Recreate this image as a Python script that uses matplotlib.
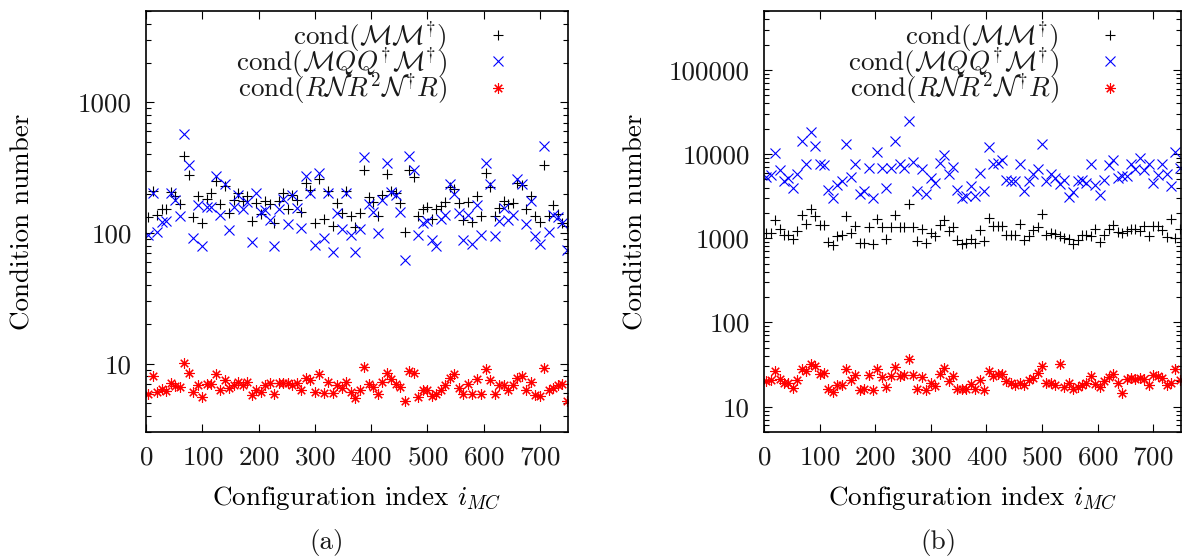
import numpy as np
import matplotlib

matplotlib.use("Agg")

import matplotlib.pyplot as plt
from matplotlib import ticker

plt.rcParams['font.family'] = 'cmr10'
plt.rcParams['mathtext.fontset'] = 'cm'
plt.rcParams['axes.formatter.use_mathtext'] = True
plt.rcParams['font.size'] = 19.5
plt.rcParams['text.color'] = '#1a1a1a'
plt.rcParams['xtick.labelcolor'] = '#1a1a1a'
plt.rcParams['ytick.labelcolor'] = '#1a1a1a'

# configuration index i_MC
config_index = list(range(4, 750, 8))

# panel (a)
a_mm = [133, 211, 138, 153, 153, 207, 191, 166, 387, 278,
        132, 191, 119, 183, 201, 250, 166, 230, 142, 180,
        201, 177, 191, 124, 170, 141, 177, 166, 119, 177,
        201, 153, 197, 179, 144, 242, 214, 120, 258, 127,
        211, 113, 170, 142, 211, 134, 111, 142, 305, 189,
        172, 136, 197, 283, 211, 201, 170, 101, 305, 266,
        134, 153, 159, 127, 152, 161, 172, 225, 216, 170,
        126, 172, 122, 191, 135, 287, 223, 134, 156, 177,
        166, 170, 242, 232, 153, 191, 134, 122, 331, 136,
        164, 140, 120, 114]
a_mqqm = [97, 203, 101, 122, 124, 201, 180, 136, 570, 331,
          92, 164, 79, 158, 158, 271, 138, 238, 105, 158,
          195, 152, 172, 86, 201, 145, 150, 126, 80, 152,
          183, 118, 195, 156, 109, 274, 201, 81, 288, 91,
          203, 72, 142, 107, 203, 96, 72, 107, 382, 168,
          145, 100, 179, 346, 205, 197, 145, 62, 387, 305,
          96, 120, 123, 88, 79, 127, 138, 238, 198, 142,
          88, 138, 83, 164, 97, 341, 239, 95, 124, 156,
          126, 138, 258, 239, 118, 175, 95, 82, 461, 101,
          138, 133, 120, 74]
a_rnr = [5.88, 8.0, 6.07, 6.38, 6.14, 7.1, 6.75, 6.58, 10.2, 8.55,
         6.07, 6.87, 5.6, 6.96, 6.96, 8.3, 6.34, 7.55, 6.46, 6.87,
         7.3, 6.87, 7.3, 5.77, 6.26, 6.07, 6.87, 7.1, 5.88, 7.1,
         7.1, 7.1, 6.87, 7.1, 6.26, 7.8, 7.45, 6.07, 8.3, 5.95,
         7.3, 5.95, 6.87, 6.46, 7.3, 6.07, 5.46, 6.34, 9.4, 6.96,
         6.66, 5.88, 7.3, 8.55, 7.6, 7.0, 6.58, 5.19, 8.8, 8.45,
         5.6, 6.26, 6.34, 5.7, 5.88, 6.34, 6.87, 7.8, 8.4, 6.46,
         5.88, 6.96, 5.88, 7.6, 5.88, 9.1, 7.45, 5.88, 6.87, 6.87,
         6.26, 6.87, 7.8, 8.1, 6.26, 7.3, 5.8, 5.7, 9.3, 6.26,
         6.46, 6.9, 7.0, 5.2]

# panel (b)
b_mm = [1162, 1162, 1663, 1280, 1107, 1107, 986, 1220, 1886, 1480,
        2223, 1832, 1452, 1452, 912, 828, 1055, 1086, 1832, 1162,
        1410, 886, 869, 1370, 844, 1712, 1344, 976, 1344, 1886,
        1344, 1370, 2522, 1344, 930, 1305, 886, 1162, 1055, 1452,
        1631, 1220, 1344, 957, 844, 869, 986, 869, 1243, 930,
        1762, 1383, 1410, 1410, 1107, 1107, 1107, 1480, 957, 1055,
        1243, 1344, 1922, 1107, 1162, 1129, 1055, 1005, 986, 844,
        957, 1086, 1086, 1055, 1300, 894, 1107, 1280, 1452, 1197,
        1150, 1220, 1280, 1280, 1220, 1383, 1055, 1400, 1383, 1243,
        1024, 1712, 1000, 1280]
b_mqqm = [5370, 5630, 10270, 6450, 4830, 5210, 3900, 5750, 14420, 7680,
          18360, 12460, 7680, 7320, 3715, 2970, 4300, 4730, 13340, 5320,
          7680, 3370, 3610, 6840, 3030, 10470, 6840, 3980, 6840, 14420,
          7680, 6840, 25030, 8060, 3645, 6640, 3310, 5210, 4470, 7830,
          9790, 5750, 6970, 3715, 3000, 3210, 4215, 3210, 6030, 3645,
          12110, 7530, 7830, 8460, 4970, 4730, 4730, 7680, 3610, 4830,
          5750, 6640, 13340, 4730, 5750, 5210, 4380, 4970, 3060, 3540,
          4730, 4870, 4510, 7680, 4300, 3275, 4970, 7320, 8460, 5210,
          5470, 5470, 7530, 6640, 9000, 6450, 7680, 4510, 5600, 7530,
          5750, 4215, 10470, 6840]
b_rnr = [19.9, 20.5, 26.6, 21.3, 18.9, 19.3, 16.7, 20.5, 27.9, 26.6,
         31.7, 30.8, 24.1, 25.3, 16.4, 14.9, 18.1, 18.1, 27.9, 20.5,
         23.5, 15.6, 16.1, 23.5, 15.9, 27.9, 22.6, 17.2, 23.0, 29.3,
         23.0, 23.5, 36.6, 23.7, 16.4, 22.6, 15.9, 19.3, 17.5, 24.1,
         28.5, 19.9, 23.0, 16.4, 16.4, 16.4, 18.6, 16.4, 20.5, 15.9,
         26.6, 23.0, 24.1, 24.1, 19.9, 18.9, 18.1, 19.3, 18.1, 20.5,
         21.9, 25.3, 30.8, 19.3, 18.9, 18.1, 32.3, 17.2, 19.3, 16.4,
         17.2, 18.1, 18.9, 23.0, 18.6, 17.2, 19.9, 22.6, 24.1, 18.9,
         14.5, 21.3, 21.9, 21.3, 21.9, 21.3, 18.1, 23.5, 23.0, 21.9,
         18.1, 19.0, 27.9, 20.9]

labels = [r'$\mathrm{cond}(\mathcal{M}\mathcal{M}^{\dagger})$',
          r'$\mathrm{cond}(\mathcal{M}QQ^{\dagger}\mathcal{M}^{\dagger})$',
          r'$\mathrm{cond}(R\mathcal{N}R^{2}\mathcal{N}^{\dagger}R)$']
x_ticks = [0, 100, 200, 300, 400, 500, 600, 700]


def draw_panel(ax, mm, mqqm, rnr, ylim, ylab_x, leg_x):
    ax.plot(config_index, mm, ls='none', marker='+', ms=7, mew=0.8,
            color='black', label=labels[0])
    ax.plot(config_index, mqqm, ls='none', marker='x', ms=6.5, mew=0.8,
            color='#0000ff', label=labels[1])
    ax.plot(config_index, rnr, ls='none', marker=(8, 2, 0), ms=7.5, mew=0.8,
            color='#ff0000', label=labels[2])
    ax.set_yscale('log')
    ax.set_xlim(0, 750)
    ax.set_ylim(*ylim)
    ax.set_xticks(x_ticks)
    ax.yaxis.set_major_locator(ticker.LogLocator(base=10))
    ax.yaxis.set_major_formatter(ticker.FuncFormatter(lambda v, p: '%d' % round(v)))
    ax.yaxis.set_minor_locator(ticker.LogLocator(base=10, subs=np.arange(2, 10)))
    ax.yaxis.set_minor_formatter(ticker.NullFormatter())
    ax.tick_params(which='both', direction='in', top=True, right=True, width=0.8)
    ax.tick_params(which='major', length=6)
    ax.tick_params(which='minor', length=3.4)
    ax.tick_params(axis='x', pad=10)
    ax.tick_params(axis='y', pad=10)
    for s in ax.spines.values():
        s.set_linewidth(1.2)
    ax.set_ylabel('Condition number')
    ax.set_xlabel(r'Configuration index $i_{MC}$')
    ax.yaxis.set_label_coords(ylab_x, 0.5)
    ax.xaxis.set_label_coords(0.5, -0.125)
    ax.legend(loc='upper right', bbox_to_anchor=(leg_x, 1.007), borderaxespad=0,
              frameon=False, markerfirst=False, handlelength=2.0,
              handletextpad=0.9, labelspacing=-0.32, numpoints=1)


fig = plt.figure(figsize=(11.83, 5.56), dpi=100)
ax1 = fig.add_axes([146 / 1183, 124 / 556, 422 / 1183, 421 / 556])
ax2 = fig.add_axes([764 / 1183, 124 / 556, 417 / 1183, 421 / 556])

draw_panel(ax1, a_mm, a_mqqm, a_rnr, (3, 5000), -0.265, 0.924)
draw_panel(ax2, b_mm, b_mqqm, b_rnr, (5, 500000), -0.28, 0.921)

fig.text(327 / 1183, 14 / 556, '(a)', ha='center', va='center')
fig.text(938 / 1183, 14 / 556, '(b)', ha='center', va='center')

fig.savefig('out.png', dpi=100)
